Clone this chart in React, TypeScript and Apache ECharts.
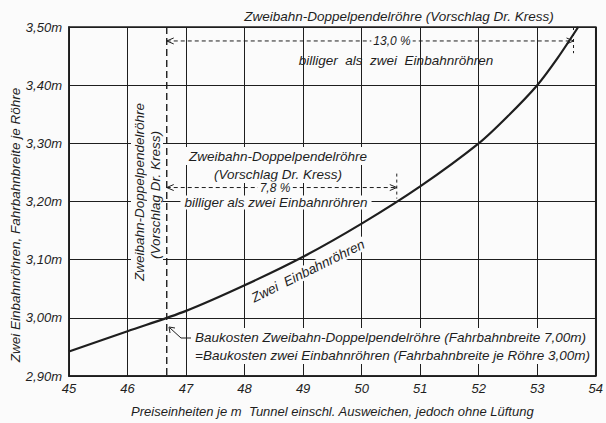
import React, { useEffect, useRef } from "react";
import * as echarts from "echarts";

const curveX = [45, 46, 47, 48, 49, 50, 51, 52, 52.5, 53, 53.35, 53.7];
const curveY = [2.942, 2.977, 3.012, 3.056, 3.105, 3.162, 3.226, 3.3, 3.347, 3.4, 3.447, 3.5];
const breakEvenX = 46.67;
const arrow13 = { from: 46.67, to: 53.62, y: 3.476, label: "13,0 %" };
const arrow78 = { from: 46.67, to: 50.6, y: 3.224, label: "7,8 %" };
const xTickLabels = ["45", "46", "47", "48", "49", "50", "51", "52", "53", "54"];

const FONT = "'Liberation Sans'";
const INK = "#1e1e1e";
const BG = "#fbfbfb";

export default function App() {
  const ref = useRef<HTMLDivElement>(null);
  useEffect(() => {
    document.body.style.margin = "0";
    const chart = echarts.init(ref.current!, null, { renderer: "svg" });
    const option: any = {
      animation: false,
      backgroundColor: BG,
      grid: { left: 69, right: 6, top: 27, bottom: 39, show: true, borderColor: INK, borderWidth: 1.6, backgroundColor: "transparent" },
      xAxis: {
        type: "value", min: 45, max: 54, interval: 1,
        axisLine: { show: true, lineStyle: { color: INK, width: 1.6 } },
        axisTick: { show: false },
        splitLine: { show: true, lineStyle: { color: INK, width: 1 } },
        axisLabel: { formatter: (v: number) => xTickLabels[Math.round(v - 45)], color: INK, fontStyle: "italic", fontFamily: FONT, fontSize: 13, margin: 6 },
        name: "Preiseinheiten je m  Tunnel einschl. Ausweichen, jedoch ohne Lüftung",
        nameLocation: "middle", nameGap: 29,
        nameTextStyle: { color: INK, fontStyle: "italic", fontFamily: FONT, fontSize: 13 },
      },
      yAxis: {
        type: "value", min: 2.9, max: 3.5, interval: 0.1,
        axisLine: { show: true, lineStyle: { color: INK, width: 1.6 } },
        axisTick: { show: false },
        splitLine: { show: true, lineStyle: { color: INK, width: 1 } },
        axisLabel: { formatter: (v: number) => v.toFixed(2).replace(".", ",") + "m", color: INK, fontStyle: "italic", fontFamily: FONT, fontSize: 13, margin: 7 },
      },
      series: [{
        type: "line", data: curveX.map((x, i) => [x, curveY[i]]), smooth: 0.3,
        showSymbol: false, clip: true, z: 5,
        lineStyle: { color: INK, width: 2.2 },
      }],
    };
    chart.setOption(option);

    const p = (x: number, y: number) => chart.convertToPixel({ gridIndex: 0 }, [x, y]) as number[];
    const txt = (text: string, x: number, y: number, extra: any = {}) => ({
      type: "text", z: 10, x, y, rotation: extra.rotation || 0,
      style: {
        text, fill: INK, font: `italic ${extra.size || 13.5}px ${FONT}`,
        align: extra.align || "center", verticalAlign: "middle",
        backgroundColor: extra.bg === false ? undefined : BG, padding: extra.padding || [1, 3],
      },
    });
    const dashLine = (a: number[], b: number[], dash = [4, 3], w = 1) => ({
      type: "line", z: 8, shape: { x1: a[0], y1: a[1], x2: b[0], y2: b[1] },
      style: { stroke: INK, lineWidth: w, lineDash: dash },
    });
    const head = (tip: number[], dir: number) => ({
      type: "polyline", z: 9,
      shape: { points: [[tip[0] - dir * 7, tip[1] - 3], tip, [tip[0] - dir * 7, tip[1] + 3]] },
      style: { stroke: INK, lineWidth: 1, fill: null },
    });

    const vTop = p(breakEvenX, 3.5), vBot = p(breakEvenX, 2.9);
    const a1l = p(arrow13.from, arrow13.y), a1r = p(arrow13.to, arrow13.y);
    const a2l = p(arrow78.from, arrow78.y), a2r = p(arrow78.to, arrow78.y);
    const t1a = p(arrow13.to, 3.5), t1b = p(arrow13.to, 3.455);
    const t2a = p(arrow78.to, 3.248), t2b = p(arrow78.to, 3.205);

    const graphic = [
      dashLine(vTop, vBot, [7, 4], 1.4),
      dashLine(a1l, a1r), head(a1l, -1), head(a1r, 1), dashLine(t1a, t1b, [3, 3]),
      dashLine(a2l, a2r), head(a2l, -1), head(a2r, 1), dashLine(t2a, t2b, [3, 3]),
      txt("Zweibahn-Doppelpendelröhre (Vorschlag Dr. Kress)", 399, 16, { bg: false }),
      txt(arrow13.label, 392, a1l[1], { padding: [0, 2], size: 12 }),
      txt("billiger  als  zwei  Einbahnröhren", 396, 60, { bg: false }),
      txt("Zweibahn-Doppelpendelröhre", 278, 156, { padding: [2, 6] }),
      txt("(Vorschlag Dr. Kress)", 278, 174, { padding: [2, 6] }),
      txt(arrow78.label, 275, a2l[1], { padding: [0, 2], size: 12 }),
      txt("billiger als zwei Einbahnröhren", 276, p(48, 3.2)[1] + 1, { padding: [0, 4] }),
      txt("Zweibahn-Doppelpendelröhre", 139, 192, { rotation: Math.PI / 2, padding: [1, 4] }),
      txt("(Vorschlag Dr. Kress)", 155, 195, { rotation: Math.PI / 2, padding: [1, 4] }),
      txt("Zwei  Einbahnröhren", 308, 271, { rotation: 0.46, padding: [0, 3] }),
      txt("Baukosten Zweibahn-Doppelpendelröhre (Fahrbahnbreite 7,00m)", 191, 337, { align: "left", padding: [2, 4] }),
      txt("=Baukosten zwei Einbahnröhren (Fahrbahnbreite je Röhre 3,00m)", 191, 355, { align: "left", padding: [2, 4] }),
      {
        type: "polyline", z: 9,
        shape: { points: [[191, 338], [181, 338], [170, 328]] },
        style: { stroke: INK, lineWidth: 1, fill: null },
      },
      {
        type: "polyline", z: 9,
        shape: { points: [[170, 333], [169, 327], [175, 328]] },
        style: { stroke: INK, lineWidth: 1, fill: null },
      },
      txt("Zwei Einbahnröhren, Fahrbahnbreite je Röhre", 15, 225, { rotation: Math.PI / 2, bg: false }),
    ];
    chart.setOption({ graphic });
    return () => chart.dispose();
  }, []);
  return <div ref={ref} style={{ width: 606, height: 423 }} />;
}
